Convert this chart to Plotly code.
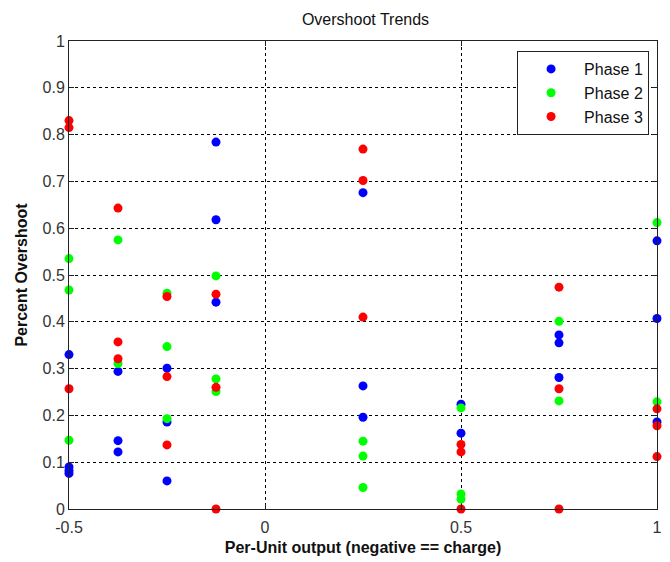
import plotly.graph_objects as go

# Per-unit output levels and measured percent overshoot for each phase
phase1_x = [-0.5, -0.5, -0.5, -0.5,
            -0.375, -0.375, -0.375,
            -0.25, -0.25, -0.25,
            -0.125, -0.125, -0.125,
            0.25, 0.25, 0.25,
            0.5, 0.5,
            0.75, 0.75, 0.75,
            1.0, 1.0, 1.0]
phase1_y = [0.330, 0.090, 0.082, 0.076,
            0.294, 0.146, 0.122,
            0.301, 0.186, 0.060,
            0.784, 0.618, 0.442,
            0.676, 0.263, 0.196,
            0.224, 0.162,
            0.372, 0.355, 0.281,
            0.573, 0.407, 0.186]

phase2_x = [-0.5, -0.5, -0.5,
            -0.375, -0.375,
            -0.25, -0.25, -0.25,
            -0.125, -0.125, -0.125,
            0.25, 0.25, 0.25,
            0.5, 0.5, 0.5,
            0.75, 0.75,
            1.0, 1.0]
phase2_y = [0.535, 0.468, 0.147,
            0.575, 0.311,
            0.461, 0.347, 0.193,
            0.498, 0.278, 0.251,
            0.145, 0.113, 0.046,
            0.216, 0.032, 0.021,
            0.401, 0.231,
            0.612, 0.229]

phase3_x = [-0.5, -0.5, -0.5,
            -0.375, -0.375, -0.375,
            -0.25, -0.25, -0.25,
            -0.125, -0.125, -0.125,
            0.25, 0.25, 0.25,
            0.5, 0.5, 0.5,
            0.75, 0.75, 0.75,
            1.0, 1.0, 1.0]
phase3_y = [0.830, 0.815, 0.257,
            0.643, 0.357, 0.321,
            0.454, 0.283, 0.137,
            0.459, 0.260, 0.0,
            0.769, 0.702, 0.410,
            0.138, 0.122, 0.0,
            0.474, 0.257, 0.0,
            0.214, 0.178, 0.112]

x_ticks = [-0.5, 0, 0.5, 1]
x_tick_text = ["-0.5", "0", "0.5", "1"]
y_ticks = [0, 0.1, 0.2, 0.3, 0.4, 0.5, 0.6, 0.7, 0.8, 0.9, 1]
y_tick_text = ["0", "0.1", "0.2", "0.3", "0.4", "0.5", "0.6", "0.7", "0.8", "0.9", "1"]

series = [
    ("Phase 1", phase1_x, phase1_y, "#0000FF"),
    ("Phase 2", phase2_x, phase2_y, "#00FF00"),
    ("Phase 3", phase3_x, phase3_y, "#FF0000"),
]

FONT = "Arial, Liberation Sans, sans-serif"

fig = go.Figure()
for name, xs, ys, color in series:
    fig.add_trace(go.Scatter(
        x=xs, y=ys, mode="markers", name=name,
        marker=dict(symbol="circle", size=9, color=color, line=dict(width=0)),
        cliponaxis=False,
    ))

axis_common = dict(
    showline=True, linecolor="#222222", linewidth=1, mirror="ticks",
    ticks="inside", ticklen=5, tickcolor="#222222",
    showgrid=True, gridcolor="#000000", gridwidth=1, griddash="3px,3px",
    zeroline=False,
    tickfont=dict(family=FONT, size=16, color="#333333"),
)

fig.update_layout(
    width=670, height=562,
    margin=dict(l=69, r=8, t=41, b=53),
    paper_bgcolor="#FFFFFF", plot_bgcolor="#FFFFFF",
    font=dict(family=FONT, color="#000000"),
    title=dict(text="Overshoot Trends", x=(69 + 593 / 2) / 670, xanchor="center",
               y=1 - 19 / 562, yanchor="middle",
               font=dict(size=16, color="#111111")),
    xaxis=dict(range=[-0.5, 1], tickvals=x_ticks, ticktext=x_tick_text,
               ticklabelstandoff=4,
               title=dict(text="<b>Per-Unit output (negative == charge)</b>",
                          font=dict(size=16, color="#111111"), standoff=6),
               **axis_common),
    yaxis=dict(range=[0, 1], tickvals=y_ticks, ticktext=y_tick_text,
               title=dict(text="<b>Percent Overshoot</b>",
                          font=dict(size=16, color="#111111"), standoff=10),
               **axis_common),
    legend=dict(x=(654 - 69) / 593, xanchor="right", y=(509 - 51) / 468, yanchor="top",
                bgcolor="#FFFFFF", bordercolor="#222222", borderwidth=1,
                font=dict(size=16, color="#111111"), itemwidth=56,
                tracegroupgap=0),
    showlegend=True,
)

fig.write_html("out.html")
